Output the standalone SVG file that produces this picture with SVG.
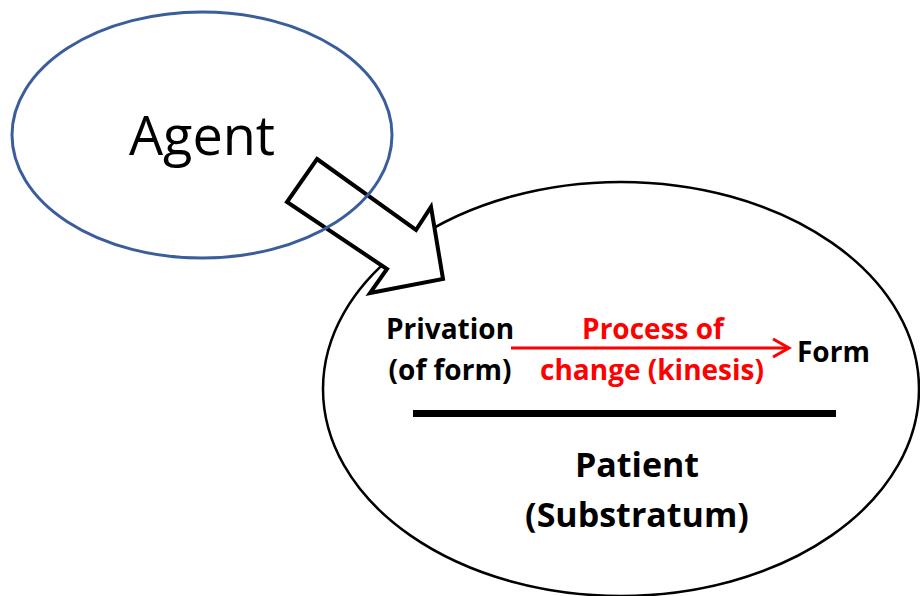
<svg xmlns="http://www.w3.org/2000/svg" width="920" height="596" viewBox="0 0 920 596">
  <style>
    .lbl { font-family: "Open Sans", "Liberation Sans", sans-serif; font-weight: bold; font-size: 28px; fill: #000; }
    .red { fill: #ff0000; }
    .big { font-size: 34px; }
    .agent { font-family: "Open Sans", "Liberation Sans", sans-serif; font-size: 54px; fill: #000; }
  </style>
  <defs>
    <marker id="chev" viewBox="0 0 20 20" refX="17" refY="10" markerWidth="20" markerHeight="20" markerUnits="userSpaceOnUse" orient="auto">
      <polyline points="1,1 17,10 1,19" fill="none" stroke="#ff0000" stroke-width="3"/>
    </marker>
  </defs>
  <rect width="920" height="596" fill="#fff"/>

  <!-- Patient (substratum) ellipse with its contents -->
  <g id="patient">
    <ellipse cx="621" cy="389" rx="298" ry="207" fill="#fff" stroke="#000" stroke-width="2.5"/>
    <text class="lbl" x="450" y="339" text-anchor="middle">Privation</text>
    <text class="lbl" x="450" y="380" text-anchor="middle">(of form)</text>
    <text class="lbl red" x="653" y="339" text-anchor="middle">Process of</text>
    <text class="lbl red" x="652" y="380" text-anchor="middle">change (kinesis)</text>
    <text class="lbl" x="797" y="362">Form</text>
    <rect x="413" y="410" width="423" height="7" fill="#000"/>
    <text class="lbl big" x="637" y="477" text-anchor="middle">Patient</text>
    <text class="lbl big" x="637" y="527" text-anchor="middle">(Substratum)</text>
  </g>

  <!-- Connectors: agent acting on patient, and the change from privation to form -->
  <g id="connectors">
    <polygon points="317,159 416,230 431,207 443,279 370,293 387,269 287,202" fill="#fff" stroke="#000" stroke-width="4" stroke-linejoin="miter"/>
    <line x1="511" y1="348" x2="789" y2="348" stroke="#ff0000" stroke-width="3" marker-end="url(#chev)"/>
  </g>

  <!-- Agent ellipse -->
  <g id="agent">
    <ellipse cx="202" cy="135" rx="190" ry="123" fill="none" stroke="#3b5d9b" stroke-width="3"/>
    <text class="agent" x="202" y="155" text-anchor="middle">Agent</text>
  </g>
</svg>
